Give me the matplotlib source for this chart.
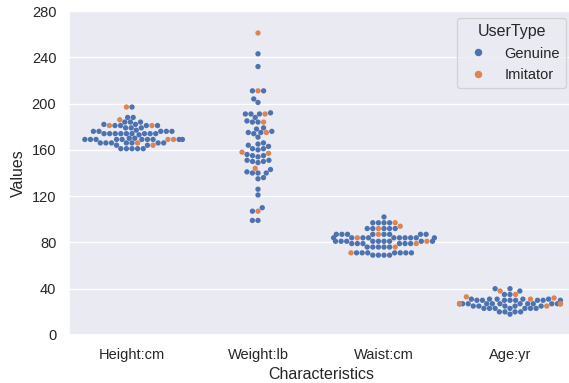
import numpy as np
import pandas as pd
import matplotlib
matplotlib.use("Agg")
import matplotlib.pyplot as plt
import seaborn as sns

height_gen = [197, 188, 188, 184, 184, 184, 182, 182, 181, 181, 181, 181, 179, 179, 179,
              177, 176, 176, 176, 176, 176, 174, 174, 174, 174, 174, 174, 174, 174, 174,
              173, 170, 170, 169, 169, 169, 169, 169, 169, 169, 169, 169, 169,
              166, 166, 166, 166, 166, 166, 166, 164, 164, 161, 161, 161, 161, 161]
height_imi = [197, 186, 181, 181, 169, 169, 166, 164]

weight_gen = [243, 232, 211, 211, 204, 201, 192, 191, 191, 191, 188, 185, 184, 184, 179, 178,
              176, 175, 175, 174, 171, 166, 165, 164, 163, 161, 161, 160, 156, 155, 155, 154,
              151, 151, 150, 150, 149, 143, 141, 140, 140, 140, 136, 135,
              126, 121, 110, 107, 99, 99]
weight_imi = [261, 211, 191, 184, 175, 158, 157, 144, 107]

waist_gen = [102, 97, 97, 97, 97, 92, 92, 92, 92, 92, 87, 87, 87, 87, 87, 87, 87, 87,
             84, 84, 84, 84, 84, 84, 84, 84, 84, 84, 81, 81, 81, 81, 81, 81, 81, 81, 81,
             79, 79, 79, 79, 79, 79, 76, 76, 76, 76, 76, 71, 71, 71, 71, 71, 71, 71,
             69, 69, 69, 69]
waist_imi = [97, 94, 92, 87, 84, 81, 79, 76, 71]

age_gen = [40, 40, 38, 35, 35, 31, 31, 31, 31, 31, 30, 30, 30, 30, 30, 30, 30, 30,
           27, 27, 27, 27, 27, 27, 27, 27, 27, 27, 27, 27, 27, 25, 25, 25, 25, 25,
           23, 23, 23, 23, 23, 23, 23, 20, 20, 20, 20, 18]
age_imi = [38, 35, 33, 32, 31, 27, 27, 27, 25]

categories = ["Height:cm", "Weight:lb", "Waist:cm", "Age:yr"]
user_types = ["Genuine", "Imitator"]
genuine = [height_gen, weight_gen, waist_gen, age_gen]
imitator = [height_imi, weight_imi, waist_imi, age_imi]

rows = []
for cat, g, im in zip(categories, genuine, imitator):
    for v in g:
        rows.append((cat, v, "Genuine"))
    for v in im:
        rows.append((cat, v, "Imitator"))
df = pd.DataFrame(rows, columns=["Characteristics", "Values", "UserType"])

sns.set_theme()
plt.rcParams['font.family'] = ['Liberation Sans', 'DejaVu Sans']

dpi = 96
fig = plt.figure(figsize=(569 / dpi, 383 / dpi), dpi=dpi)
ax = fig.add_axes([69 / 569, 48 / 383, 504 / 569, 324 / 383])
sns.swarmplot(data=df, x="Characteristics", y="Values", hue="UserType",
              order=categories, hue_order=user_types, size=4, ax=ax)
ax.set_ylim(0, 280)
ax.set_yticks(np.arange(0, 281, 40))
ax.legend(title="UserType", loc="upper right", markerscale=1.4)

fig.savefig("out.png", dpi=dpi)
